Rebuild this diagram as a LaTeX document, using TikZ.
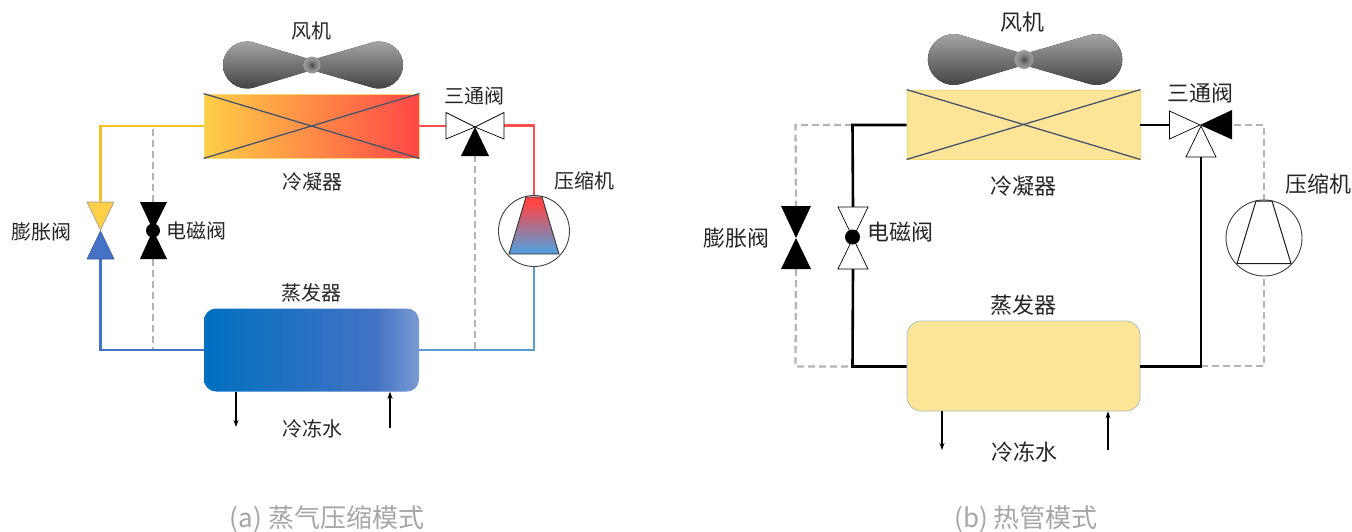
\documentclass[tikz,border=0pt]{standalone}
\usepackage{fontspec}
\setmainfont{Noto Sans CJK SC}
\usetikzlibrary{arrows.meta,calc}
\definecolor{lblc}{HTML}{262626}
\definecolor{capc}{HTML}{A6A6A6}
\definecolor{dashc}{HTML}{B4B4B4}
\definecolor{yel}{HTML}{F5C327}
\definecolor{blu}{HTML}{4472C4}
\definecolor{lblu}{HTML}{5B9BD5}
\definecolor{redp}{HTML}{FF5050}
\definecolor{palefill}{HTML}{FDE497}
\definecolor{paleedge}{HTML}{F3D873}
\definecolor{crossc}{HTML}{44546A}
\definecolor{condL}{HTML}{FFCF47}
\definecolor{condR}{HTML}{FF4747}
\definecolor{evL}{HTML}{0070C0}
\definecolor{evM}{HTML}{4472C4}
\definecolor{evR}{HTML}{7A9BD2}
\definecolor{compT}{HTML}{FF4444}
\definecolor{hubD}{HTML}{4A4A4A}
\definecolor{hubM}{HTML}{808080}
\definecolor{hubL}{HTML}{A0A0A0}
\pgfdeclarehorizontalshading{evapshade}{100bp}{color(0bp)=(evL);color(25bp)=(evL);color(65bp)=(evM);color(75bp)=(evR);color(100bp)=(evR)}
\pgfdeclareverticalshading{compshade}{100bp}{color(0bp)=(lblu);color(25bp)=(lblu);color(29bp)=(lblu);color(70bp)=(compT);color(75bp)=(compT);color(100bp)=(compT)}
\pgfdeclareradialshading{hubshade}{\pgfpoint{0bp}{0bp}}{color(0bp)=(hubD);color(12bp)=(hubM);color(25bp)=(hubL);color(50bp)=(hubL)}
\tikzset{
  x=1pt,y=-1pt,
  lbl/.style={text=lblc,font=\fontsize{20}{24}\selectfont,inner sep=0pt},
  lblb/.style={text=lblc,font=\fontsize{22}{26}\selectfont,inner sep=0pt},
  captxt/.style={text=capc,font=\fontsize{26}{30}\selectfont,inner sep=0pt},
  pipe/.style={line width=2.6pt,line join=miter},
  thinpipe/.style={line width=2.1pt,line join=miter},
  dashpipe/.style={line width=2.3pt,color=dashc,dash pattern=on 7pt off 4pt},
  valve/.style={draw=black,line width=0.7pt,line join=miter},
  cross/.style={draw=crossc,line width=1.3pt},
  water/.style={draw=black,line width=1.3pt,-{Stealth[length=7pt,width=5pt]}},
  blade/.style={top color=black!33,bottom color=black!76,draw=none},
  hub/.style={circle,inner sep=0pt,shading=hubshade,draw=none},
  comp/.style={circle,draw=black!75,line width=0.9pt,fill=white,inner sep=0pt},
}
\newcommand{\fanblades}[3]{% centre x, centre y, scale
  \begin{scope}[shift={(#1,#2)},scale=#3]
    \fill[blade] (-5,-6.5) -- (-58.6,-22.6) .. controls (-73.6,-26.8) and (-89,-15.6) .. (-89,0)
       .. controls (-89,15.6) and (-73.6,26.8) .. (-58.6,22.6) -- (-5,6.5) -- cycle;
    \fill[blade] (5,-6.5) -- (60.6,-22.6) .. controls (75.6,-26.8) and (91,-15.6) .. (91,0)
       .. controls (91,15.6) and (75.6,26.8) .. (60.6,22.6) -- (5,6.5) -- cycle;
  \end{scope}}
\begin{document}
\begin{tikzpicture}
\useasboundingbox (0,0) rectangle (1352,531);
% ============= panel (a)
\fanblades{312}{65}{1}
\node[hub,minimum size=17pt] (fanA) at (312,65) {};
\node[lbl] (fanAl) at (311,31) {风机};
\node[minimum width=215pt,minimum height=64pt,inner sep=0pt,draw=paleedge,line width=0.8pt,left color=condL,right color=condR] (condA) at (311.5,126) {};
\draw[cross] (condA.north west) -- (condA.south east);
\draw[cross] (condA.south west) -- (condA.north east);
\node[lbl] (condAl) at (312,182) {冷凝器};
\node[minimum width=215pt,minimum height=83pt,inner sep=0pt,rounded corners=12pt,draw=none,shading=evapshade] (evapA) at (311.5,350) {};
\node[lbl] (evapAl) at (311,293) {蒸发器};
\node[lbl] (waterAl) at (312,429) {冷冻水};
\coordinate (wAo) at (236,427);
\coordinate (wAi) at (390,428);
\draw[water] (evapA.south -| wAo) -- (wAo);
\draw[water] (wAi) -- (evapA.south -| wAi);
\coordinate (eAt) at (100.5,202);
\coordinate (eAb) at (100.5,259);
\coordinate (mAt) at (153,202);
\coordinate (mAb) at (153,259);
\coordinate (tAl) at (446,126);
\coordinate (tAr) at (504,125.5);
\coordinate (tAb) at (475,156);
\coordinate (cAt) at (534,197);
\coordinate (cAb) at (534,266.5);
\draw[pipe,yel] (condA.west) -- (100.5,126) -- (eAt);
\draw[thinpipe,blu] (eAb) -- (100.5,350) -- (evapA.west);
\draw[dashpipe] (153,129) -- (mAt);
\draw[dashpipe] (mAb) -- (153,349);
\draw[thinpipe,lblu] (evapA.east) -- (534,350) -- (cAb);
\draw[dashpipe] (475,349) -- (tAb);
\draw[pipe,redp] (condA.east) -- (tAl);
\draw[pipe,redp] (tAr) -- (534,125.5) -- (cAt);
\filldraw[fill=condL,draw=black!40,line width=0.6pt] (87,202) -- (114,202) -- (100.5,230) -- cycle;
\filldraw[fill=blu,draw=blu!80!black,line width=0.6pt] (87,259) -- (114,259) -- (100.5,231) -- cycle;
\fill[black] (140,202) -- (167,202) -- (153,230) -- cycle;
\fill[black] (140,259) -- (167,259) -- (153,230) -- cycle;
\node[circle,fill=black,minimum size=14pt,inner sep=0pt] (mAc) at (153,230.5) {};
\node[lbl] (eAl) at (41,232) {膨胀阀};
\node[lbl] (mAl) at (196,231) {电磁阀};
\filldraw[valve,fill=white] (446,112.5) -- (475,127) -- (446,139) -- cycle;
\filldraw[valve,fill=white] (504,112.5) -- (475,127) -- (504,139) -- cycle;
\fill[black] (461,156) -- (489,156) -- (475,127) -- cycle;
\node[lbl] (tAll) at (474,96) {三通阀};
\node[comp,minimum size=71pt] (compA) at (534,231) {};
\shade[shading=compshade,draw=black!80,line width=0.9pt] (526,197) -- (542,197) -- (559,254) -- (509,254) -- cycle;
\node[lbl] (compAl) at (584,181) {压缩机};
\node[captxt] (capA) at (327,519) {(a) 蒸气压缩模式};
% ============= panel (b)
\fanblades{1024}{59.5}{1.08}
\node[hub,minimum size=19pt] (fanB) at (1024,59.5) {};
\node[lblb] (fanBl) at (1022,22) {风机};
\node[minimum width=233pt,minimum height=69pt,inner sep=0pt,draw=paleedge,line width=0.9pt,fill=palefill] (condB) at (1023.5,124.5) {};
\draw[cross] (condB.north west) -- (condB.south east);
\draw[cross] (condB.south west) -- (condB.north east);
\node[lblb] (condBl) at (1023,186) {冷凝器};
\node[minimum width=233pt,minimum height=90pt,inner sep=0pt,rounded corners=14pt,draw=lblu!55!palefill,line width=0.7pt,fill=palefill] (evapB) at (1023.5,366) {};
\node[lblb] (evapBl) at (1023,305) {蒸发器};
\node[lblb] (waterBl) at (1024,452) {冷冻水};
\coordinate (wBo) at (942,450);
\coordinate (wBi) at (1108,450);
\draw[water] (evapB.south -| wBo) -- (wBo);
\draw[water] (wBi) -- (evapB.south -| wBi);
\coordinate (eBt) at (796,206);
\coordinate (eBb) at (796,269);
\coordinate (mBt) at (853,207);
\coordinate (mBb) at (853,269);
\coordinate (tBl) at (1170,125);
\coordinate (tBr) at (1232,125);
\coordinate (tBb) at (1201,157);
\coordinate (cBt) at (1264,201);
\coordinate (cBb) at (1264,276);
\coordinate (yHi) at (0,125);
\coordinate (yLo) at (0,366.5);
\draw[dashpipe] (852,125) -- (795.5,125) -- (eBt);
\draw[dashpipe] (eBb) -- (795.5,366.5) -- (852,366.5);
\draw[dashpipe] (1201,366) -- (1264,366) -- (cBb);
\draw[dashpipe] (cBt) -- (1264,125) -- (tBr);
\draw[pipe,black] (condB.west |- yHi) -- (852.5,125) -- (mBt);
\draw[pipe,black] (mBb) -- (852.5,366.5) -- (evapB.west |- yLo);
\draw[pipe,black] (evapB.east |- yLo) -- (1201,366.5) -- (tBb);
\draw[pipe,black] (condB.east |- yHi) -- (tBl);
\fill[black] (781,206) -- (811,206) -- (796,238) -- cycle;
\fill[black] (781,269) -- (811,269) -- (796,238) -- cycle;
\filldraw[valve,fill=white] (838,207) -- (868,207) -- (853,238) -- cycle;
\filldraw[valve,fill=white] (838,269) -- (868,269) -- (853,238) -- cycle;
\node[circle,fill=black,minimum size=15pt,inner sep=0pt] (mBc) at (852.5,237) {};
\node[lblb] (eBl) at (736,238) {膨胀阀};
\node[lblb] (mBl) at (900,232) {电磁阀};
\filldraw[valve,fill=white] (1169.5,111) -- (1200,125) -- (1169.5,139) -- cycle;
\fill[black] (1232,110) -- (1200,125) -- (1232,139.5) -- cycle;
\filldraw[valve,fill=white] (1186,157) -- (1216,157) -- (1201,126) -- cycle;
\node[lblb] (tBll) at (1200,93) {三通阀};
\node[comp,minimum size=76pt] (compB) at (1264,238) {};
\draw[black!90,line width=1pt,line join=miter] (1256,201) -- (1272,201) -- (1291,263.5) -- (1237,263.5) -- cycle;
\node[lblb] (compBl) at (1318,184) {压缩机};
\node[captxt] (capB) at (1026,519) {(b) 热管模式};
\end{tikzpicture}
\end{document}
